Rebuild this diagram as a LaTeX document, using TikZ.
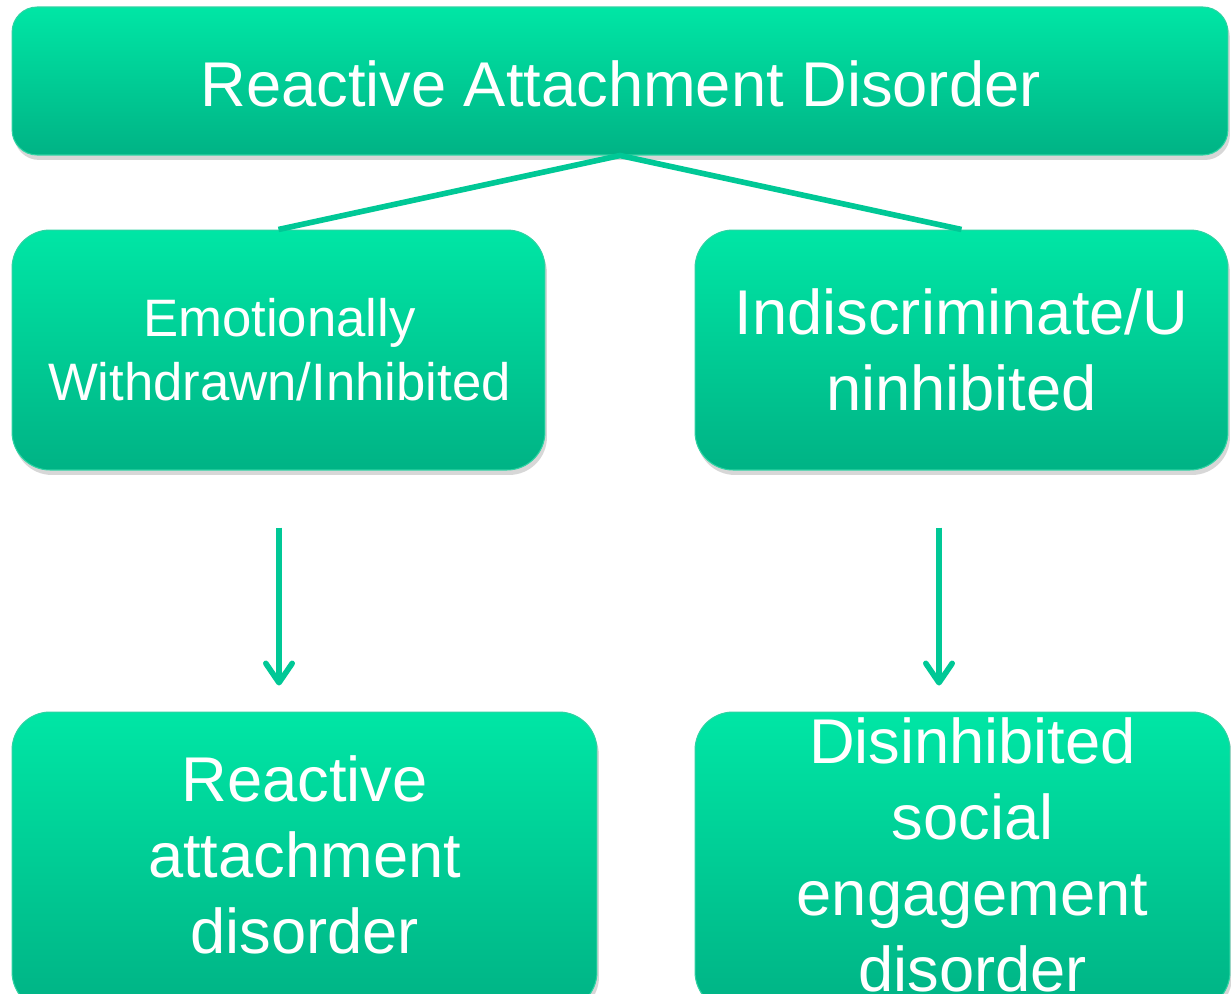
\documentclass[tikz,border=0pt]{standalone}
\usepackage{fontspec}
\setmainfont{Liberation Sans}
\usetikzlibrary{arrows.meta,shadows}
\definecolor{gtop}{HTML}{00E6A5}
\definecolor{gbot}{HTML}{00B385}
\definecolor{gedge}{HTML}{2ED3A3}
\definecolor{conn}{HTML}{00C896}
\tikzset{
  box/.style={rectangle, inner sep=0pt, top color=gtop, bottom color=gbot, draw=gedge, line width=0.6pt,
    drop shadow={shadow xshift=0.04cm, shadow yshift=-0.1cm, opacity=0.22, fill=black!70}},
  bigtxt/.style={text=white, align=center, anchor=base, inner sep=0pt,
    font=\fontsize{36}{43.2}\selectfont},
  midtxt/.style={text=white, align=center, anchor=base, inner sep=0pt,
    font=\fontsize{30}{36.3}\selectfont},
  link/.style={draw=conn, line width=3.2pt},
  arr/.style={draw=conn, line width=3.2pt, -{Straight Barb[length=11pt,width=15pt,line cap=round,line join=round]}}
}
\begin{document}
\begin{tikzpicture}[x=0.02cm, y=-0.02cm]
\clip (0,0) rectangle (1231,994);
\fill[white] (0,0) rectangle (1231,994);
% boxes
\node[box, rounded corners=0.5cm, minimum width=24.32cm, minimum height=2.96cm] (top) at (620,81) {};
\node[box, rounded corners=0.76cm, minimum width=10.66cm, minimum height=4.8cm] (lm) at (278.5,350) {};
\node[box, rounded corners=0.76cm, minimum width=10.66cm, minimum height=4.8cm] (rm) at (961.5,350) {};
\node[box, rounded corners=0.76cm, minimum width=11.7cm, minimum height=5.96cm] (bl) at (304.5,861) {};
\node[box, rounded corners=0.76cm, minimum width=10.7cm, minimum height=5.96cm] (br) at (962.5,861) {};
% texts (base anchor = baseline of the last line)
\node[bigtxt] (ttop) at (620.5,106) {Reactive Attachment Disorder};
\node[midtxt] (tlm) at (279.5,400.7) {Emotionally\\Withdrawn/Inhibited};
\node[bigtxt] (trm) at (961.5,410.7) {Indiscriminate/U\\ninhibited};
\node[bigtxt] (tbl) at (304.5,953.3) {Reactive\\attachment\\disorder};
\node[bigtxt] (tbr) at (972.5,991.5) {Disinhibited\\social\\engagement\\disorder};
% connectors
\draw[link] (lm.north) -- (top.south) -- (rm.north);
\draw[arr] (lm.south) ++(0.5,57) -- ++(0,158);
\draw[arr] (rm.south) ++(-22.5,57) -- ++(0,158);
\end{tikzpicture}
\end{document}
